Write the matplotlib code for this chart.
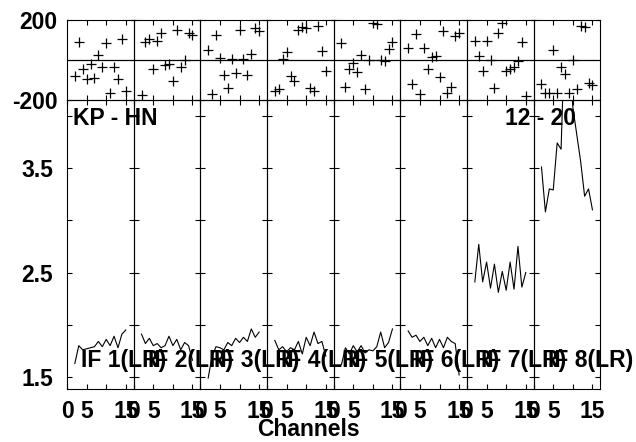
import numpy as np
import matplotlib.pyplot as plt

plt.rcParams['font.family'] = ['Liberation Sans', 'DejaVu Sans']
plt.rcParams['font.weight'] = 'bold'
plt.rcParams['axes.unicode_minus'] = False

channels = [2, 3, 4, 5, 6, 7, 8, 9, 10, 11, 12, 13, 14, 15]
if_labels = ["IF 1(LR)", "IF 2(LR)", "IF 3(LR)", "IF 4(LR)",
             "IF 5(LR)", "IF 6(LR)", "IF 7(LR)", "IF 8(LR)"]

phase_if1 = [-80, 90, -47, -97, -18, -90, 25, -35, 87, -163, -35, -93, 107, -155]
phase_if2 = [-175, 90, 107, -47, 95, 133, -27, -22, -107, 148, -33, 0, 137, 125]
phase_if3 = [48, -172, 123, 12, -73, -142, 7, -63, 150, 3, -77, 28, 162, 145]
phase_if4 = [-155, -147, 3, 40, -80, -107, 150, 165, 160, -138, -155, 170, 45, -55]
phase_if5 = [83, -133, -47, -13, -60, 27, -143, -2, 183, 178, 0, -7, 57, 90]
phase_if6 = [60, -118, 132, -168, 62, -47, 15, 20, -85, 145, -163, -133, 120, 137]
phase_if7 = [95, 20, -55, 95, -2, -142, 137, 183, -55, -43, -33, -5, 92, -180]
phase_if8 = [-118, -167, -167, 52, -167, -35, -72, -167, -2, -143, 170, 167, -113, -125]

amp_if1 = [1.63, 1.80, 1.76, 1.77, 1.78, 1.79, 1.84, 1.79, 1.86, 1.80, 1.89, 1.78, 1.91, 1.95]
amp_if2 = [1.91, 1.82, 1.87, 1.80, 1.82, 1.78, 1.80, 1.89, 1.80, 1.86, 1.76, 1.83, 1.80, 1.66]
amp_if3 = [1.49, 1.70, 1.79, 1.78, 1.76, 1.83, 1.80, 1.87, 1.83, 1.88, 1.84, 1.96, 1.88, 1.93]
amp_if4 = [1.85, 1.76, 1.79, 1.74, 1.78, 1.76, 1.84, 1.72, 1.88, 1.80, 1.93, 1.82, 1.84, 1.70]
amp_if5 = [1.62, 1.78, 1.72, 1.80, 1.74, 1.80, 1.73, 1.76, 1.75, 1.79, 1.93, 1.78, 1.83, 1.96]
amp_if6 = [1.94, 1.88, 1.90, 1.84, 1.88, 1.80, 1.87, 1.78, 1.86, 1.78, 1.88, 1.84, 1.82, 1.52]
amp_if7 = [2.41, 2.77, 2.41, 2.60, 2.35, 2.58, 2.31, 2.51, 2.33, 2.60, 2.34, 2.75, 2.36, 2.50]
amp_if8 = [3.51, 3.08, 3.30, 3.29, 3.74, 3.68, 4.9, 4.6, 4.08, 3.82, 3.56, 3.23, 3.30, 3.10]

phases = [phase_if1, phase_if2, phase_if3, phase_if4, phase_if5, phase_if6, phase_if7, phase_if8]
amps = [amp_if1, amp_if2, amp_if3, amp_if4, amp_if5, amp_if6, amp_if7, amp_if8]

W, H = 636, 442
fig = plt.figure(figsize=(W / 100, H / 100), dpi=100)

x0 = 67
pw = 533.3 / 8
fs = 16.5

for i in range(8):
    left = (x0 + i * pw) / W
    axp = fig.add_axes([left, 1 - 100 / H, pw / W, 80 / H])
    axa = fig.add_axes([left, 1 - 389 / H, pw / W, 289 / H])

    axp.plot(channels, phases[i], '+', color='black', ms=7, mew=0.9)
    axp.axhline(0, color='black', lw=0.9)
    axp.set_xlim(0, 17)
    axp.set_ylim(-200, 200)
    axp.set_yticks([-200, 200])
    axp.set_xticks([5, 10, 15])
    axp.tick_params(direction='in', length=3.8, width=0.8, top=True, right=True,
                    labelbottom=False, labelsize=fs, pad=7)
    if i > 0:
        axp.tick_params(labelleft=False)

    axa.plot(channels, amps[i], color='black', lw=0.8)
    axa.set_xlim(0, 17)
    axa.set_ylim(1.385, 4.151)
    axa.set_xticks([0, 5, 15])
    axa.set_xticks([10], minor=True)
    axa.set_yticks([1.5, 2.5, 3.5])
    axa.set_yticks([2.0, 3.0, 4.0], minor=True)
    axa.tick_params(which='both', direction='in', length=3.8, width=0.8,
                    top=True, right=True, labelsize=fs)
    axa.tick_params(axis='x', pad=8)
    axa.tick_params(axis='y', pad=10)
    if i > 0:
        axa.tick_params(labelleft=False)

    for ax in (axp, axa):
        ax.patch.set_alpha(0)
        for s in ax.spines.values():
            s.set_linewidth(0.8)

    # channel labels go on the figure so neighbours overlap as in the original
    fig.text((x0 + i * pw + 14) / W, 1 - 360 / H, if_labels[i],
             ha='left', va='center', fontsize=fs, fontweight='bold', zorder=5)

fig.text(73 / W, 1 - 119 / H, "KP - HN", ha='left', va='center', fontsize=fs, fontweight='bold')
fig.text(576 / W, 1 - 119 / H, "12 - 20", ha='right', va='center', fontsize=fs, fontweight='bold')
fig.text(308 / W, 1 - 429 / H, "Channels", ha='center', va='center', fontsize=fs, fontweight='bold')

fig.savefig("out.png", dpi=100)
